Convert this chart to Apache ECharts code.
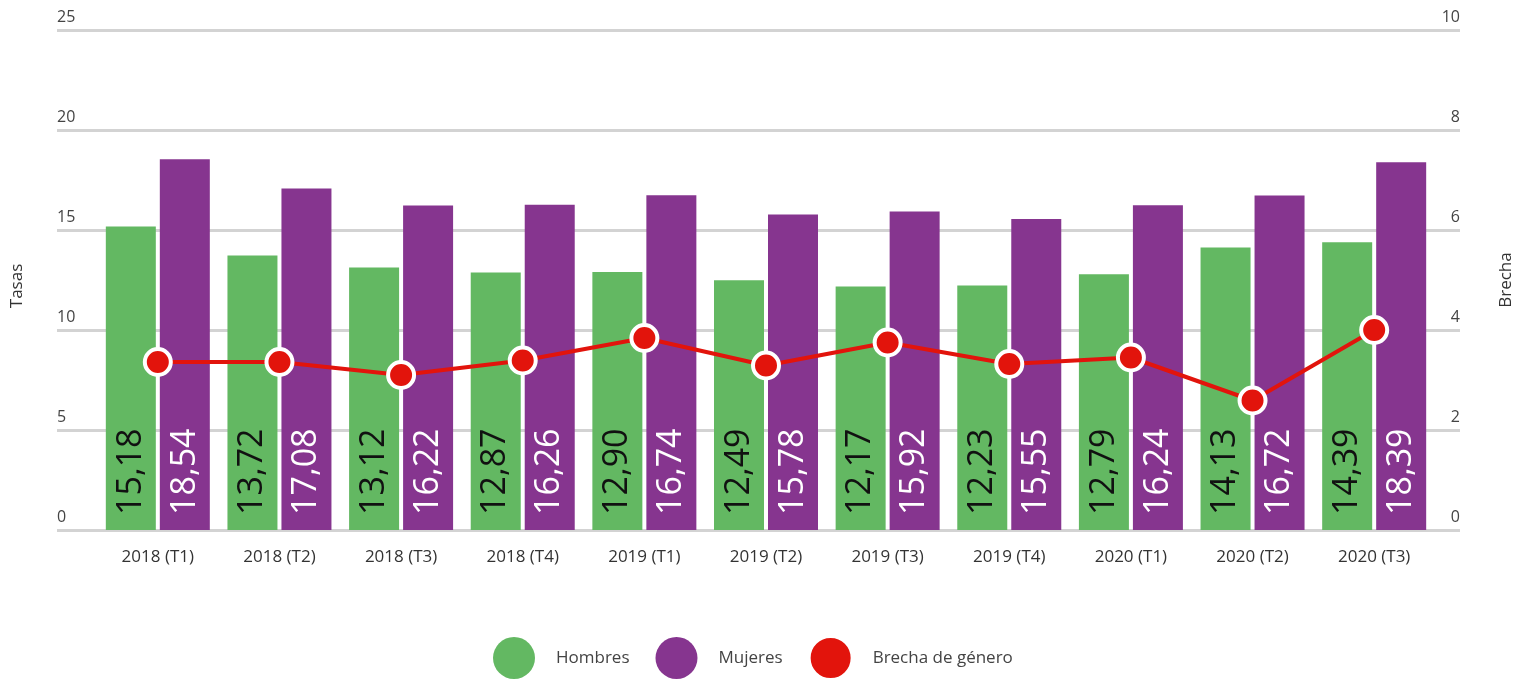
<!DOCTYPE html>
<html>
<head>
<meta charset="utf-8">
<title>Tasas por sexo</title>
<script src="https://cdn.jsdelivr.net/npm/echarts@6/dist/echarts.min.js"></script>
<style>
    html, body { margin: 0; padding: 0; background: #fff; }
    #chart { width: 1523px; height: 679px; }
</style>
</head>
<body>
<div id="chart"></div>
<script>
var categorias = ["2018 (T1)", "2018 (T2)", "2018 (T3)", "2018 (T4)", "2019 (T1)", "2019 (T2)", "2019 (T3)", "2019 (T4)", "2020 (T1)", "2020 (T2)", "2020 (T3)"];
var hombres = [15.18, 13.72, 13.12, 12.87, 12.90, 12.49, 12.17, 12.23, 12.79, 14.13, 14.39];
var mujeres = [18.54, 17.08, 16.22, 16.26, 16.74, 15.78, 15.92, 15.55, 16.24, 16.72, 18.39];
var brecha = [3.36, 3.36, 3.10, 3.39, 3.84, 3.29, 3.75, 3.32, 3.45, 2.59, 4.00];

(function(window, echarts) {
    var font = "'Open Sans', 'Noto Sans', sans-serif",
        verde = "#63b862",
        morado = "#86358f",
        rojo = "#e2140c",
        gris = "#d3d3d3";

    function coma(v) {
        return v.toFixed(2).replace(".", ",");
    }

    function etiqueta(color) {
        return {
            show: true,
            position: "insideBottom",
            rotate: 90,
            align: "left",
            verticalAlign: "middle",
            distance: 15,
            fontFamily: font,
            fontWeight: "normal",
            fontSize: 34,
            color: color,
            formatter: function(p) {
                return coma(p.value);
            }
        };
    }

    var chart = echarts.init(document.getElementById("chart"));
    var option = {
        animation: false,
        textStyle: { fontFamily: font },
        grid: [
            // rejilla ancha: solo las lineas y los ejes con sus nombres
            { left: 57, right: 60, top: 30, bottom: 149 },
            // rejilla interior: barras y linea
            { left: 97, right: 88, top: 30, bottom: 149 }
        ],
        legend: {
            top: 631,
            left: 488,
            icon: "circle",
            itemWidth: 42,
            itemHeight: 42,
            itemGap: 26,
            textStyle: {
                color: "#444",
                fontSize: 17,
                fontFamily: font,
                padding: [0, 0, 0, 16]
            },
            data: ["Hombres", "Mujeres", "Brecha de género"]
        },
        xAxis: [
            { gridIndex: 0, type: "value", show: false, min: 0, max: 1 },
            {
                gridIndex: 1,
                type: "category",
                data: categorias,
                axisLine: { show: false },
                axisTick: { show: false },
                axisLabel: { color: "#333", fontSize: 17, margin: 19 }
            }
        ],
        yAxis: [
            {
                gridIndex: 0,
                type: "value",
                position: "left",
                min: 0, max: 25, interval: 5,
                name: "Tasas",
                nameLocation: "middle",
                nameRotate: 90,
                nameGap: 31,
                nameTextStyle: { color: "#333", fontSize: 17, padding: [0, 12, 0, 0] },
                axisLine: { show: false },
                axisTick: { show: false },
                axisLabel: {
                    inside: true, margin: 0, align: "left", verticalAlign: "bottom",
                    padding: [0, 0, 5, 0], color: "#444", fontSize: 16
                },
                splitLine: { lineStyle: { color: gris, width: 3 } }
            },
            {
                gridIndex: 0,
                type: "value",
                position: "right",
                min: 0, max: 10, interval: 2,
                name: "Brecha",
                nameLocation: "middle",
                nameRotate: 90,
                nameGap: 38,
                nameTextStyle: { color: "#333", fontSize: 17 },
                axisLine: { show: false },
                axisTick: { show: false },
                axisLabel: {
                    inside: true, margin: 0, align: "right", verticalAlign: "bottom",
                    padding: [0, 0, 5, 0], color: "#444", fontSize: 16
                },
                splitLine: { show: false }
            },
            { gridIndex: 1, type: "value", min: 0, max: 25, show: false },
            { gridIndex: 1, type: "value", min: 0, max: 10, show: false }
        ],
        series: [
            {
                name: "Hombres",
                type: "bar",
                xAxisIndex: 1,
                yAxisIndex: 2,
                data: hombres,
                barWidth: 50,
                barGap: "8%",
                itemStyle: { color: verde },
                label: etiqueta("#111")
            },
            {
                name: "Mujeres",
                type: "bar",
                xAxisIndex: 1,
                yAxisIndex: 2,
                data: mujeres,
                barWidth: 50,
                barGap: "8%",
                itemStyle: { color: morado },
                label: etiqueta("#fff")
            },
            {
                name: "Brecha de género",
                type: "line",
                xAxisIndex: 1,
                yAxisIndex: 3,
                data: brecha,
                z: 5,
                symbol: "circle",
                symbolSize: 26,
                lineStyle: { color: rojo, width: 4 },
                itemStyle: { color: rojo, borderColor: "#fff", borderWidth: 4 }
            }
        ]
    };
    chart.setOption(option);
})(window, echarts);
</script>
</body>
</html>
